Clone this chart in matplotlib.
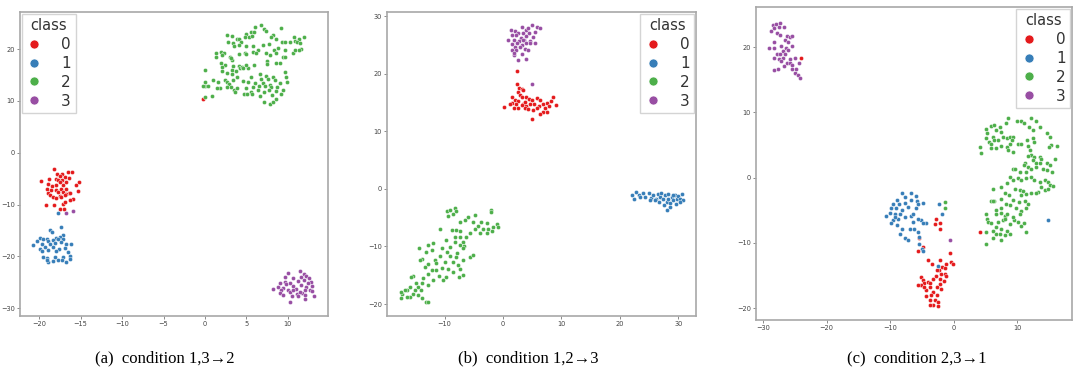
import matplotlib
matplotlib.use("Agg")
import matplotlib.pyplot as plt
from matplotlib.lines import Line2D

# colours per class (Set1)
CLASS_COLORS = ["#e41a1c", "#377eb8", "#4daf4a", "#984ea3"]
CLASS_NAMES = ["0", "1", "2", "3"]

# ---- panel (a): condition 1,3 -> 2 ----
a_cls0 = [(-18.2, -3.2), (-17.2, -4.0), (-16.5, -3.8), (-16.0, -3.7), (-17.8, -4.1), (-17.5, -4.5),
          (-16.9, -4.6), (-18.0, -5.0), (-17.7, -5.3), (-17.2, -5.3), (-16.4, -4.9), (-19.8, -5.5),
          (-18.8, -5.1), (-17.5, -5.6), (-16.7, -5.7), (-15.2, -5.6), (-18.9, -6.1), (-18.5, -6.4),
          (-17.9, -6.3), (-17.1, -6.3), (-15.6, -6.3), (-19.0, -6.9), (-18.6, -7.2), (-17.9, -7.1),
          (-17.3, -6.9), (-16.7, -7.0), (-15.3, -7.3), (-18.9, -7.7), (-17.7, -7.5), (-17.1, -7.5),
          (-16.4, -7.7), (-16.8, -7.9), (-18.7, -8.2), (-18.3, -8.5), (-17.5, -8.4), (-16.9, -8.2),
          (-16.3, -7.7), (-17.9, -8.8), (-17.3, -8.6), (-15.9, -9.0), (-19.2, -10.1), (-18.2, -10.0),
          (-17.1, -9.9), (-17.5, -10.9), (-17.0, -10.8), (-16.3, -9.2), (-16.9, -9.5), (-0.3, 10.4)]
a_cls1 = [(-17.3, -14.3), (-18.7, -14.9), (-18.5, -15.3), (-17.1, -15.8), (-19.9, -16.4), (-19.5, -16.6),
          (-19.1, -16.7), (-17.5, -16.2), (-17.9, -16.4), (-20.3, -17.0), (-18.9, -17.0), (-18.3, -16.9),
          (-17.7, -16.7), (-17.1, -16.6), (-20.7, -17.8), (-19.7, -17.5), (-18.7, -17.5), (-18.1, -17.4),
          (-17.3, -17.2), (-16.7, -17.6), (-16.1, -17.5), (-19.9, -18.5), (-19.3, -18.2), (-18.3, -18.2),
          (-17.6, -18.5), (-16.9, -18.3), (-19.7, -18.9), (-18.9, -18.8), (-17.9, -18.9), (-16.5, -19.1),
          (-19.5, -20.1), (-19.1, -20.3), (-18.1, -20.1), (-17.1, -20.1), (-16.3, -20.0), (-18.9, -21.1),
          (-18.3, -20.9), (-17.2, -20.7), (-16.7, -21.1), (-16.3, -20.4), (-19.0, -20.6), (-17.7, -20.6),
          (-17.7, -11.6)]
a_cls2 = [(6.7, 24.6), (7.1, 23.8), (7.3, 23.5), (6.0, 24.2), (5.5, 23.3), (5.0, 23.0), (5.9, 23.2),
          (9.2, 24.0), (8.2, 22.8), (2.7, 22.8), (3.2, 22.6), (3.8, 21.9), (4.1, 21.9), (3.4, 21.2),
          (4.4, 21.4), (4.8, 22.3), (5.3, 22.4), (5.7, 22.5), (7.9, 22.3), (8.5, 21.9), (9.3, 21.4),
          (9.7, 21.4), (10.7, 22.4), (10.2, 21.4), (10.9, 21.6), (11.9, 22.3), (11.3, 21.9), (11.1, 21.4),
          (11.4, 21.1), (2.8, 21.4), (3.5, 20.5), (5.0, 20.5), (5.8, 20.6), (6.4, 19.9), (7.0, 20.8),
          (7.7, 20.9), (8.3, 19.8), (8.8, 20.3), (9.7, 19.9), (10.6, 19.2), (11.6, 20.1), (11.3, 19.8),
          (10.8, 19.8), (4.1, 20.8), (4.8, 19.3), (5.8, 19.5), (6.1, 19.2), (7.4, 19.2), (1.3, 19.3),
          (1.9, 19.5), (2.3, 19.3), (1.3, 18.4), (2.0, 18.8), (3.0, 18.5), (4.1, 19.0), (5.0, 19.0),
          (7.8, 18.8), (8.6, 19.2), (9.4, 18.5), (9.7, 18.4), (1.9, 17.4), (2.4, 17.0), (3.3, 17.9),
          (3.1, 18.2), (3.4, 16.7), (4.1, 16.7), (4.2, 16.4), (4.5, 16.5), (5.2, 16.4), (5.0, 16.9),
          (5.9, 17.0), (7.5, 17.7), (7.5, 17.2), (8.5, 17.4), (9.0, 17.4), (2.1, 16.6), (2.0, 15.8),
          (0.0, 15.9), (3.2, 15.9), (3.7, 15.8), (4.6, 16.3), (2.6, 15.4), (3.2, 15.2), (3.9, 14.7),
          (4.6, 13.9), (5.6, 14.7), (6.6, 15.2), (7.4, 14.8), (6.8, 14.3), (7.6, 14.3), (8.2, 14.7),
          (9.6, 15.6), (9.8, 14.7), (9.9, 13.7), (9.1, 13.5), (8.4, 14.0), (7.8, 13.1), (7.0, 13.4),
          (6.0, 13.5), (5.2, 13.7), (3.4, 14.0), (2.4, 14.1), (2.6, 13.7), (1.6, 13.7), (1.0, 14.0),
          (0.0, 13.6), (1.8, 12.4), (2.9, 13.2), (3.1, 12.6), (3.5, 12.1), (0.0, 12.9), (0.4, 12.9),
          (-0.2, 12.9), (2.7, 12.6), (3.9, 12.4), (5.0, 12.4), (5.8, 12.7), (6.5, 12.9), (7.2, 12.9),
          (8.0, 12.7), (8.7, 12.6), (9.4, 12.2), (7.7, 12.1), (8.5, 12.0), (9.2, 11.3), (8.1, 11.2),
          (7.1, 11.8), (6.4, 12.2), (5.6, 11.8), (4.7, 11.3), (5.1, 11.3), (6.6, 10.9), (7.1, 9.8),
          (7.8, 9.5), (8.5, 10.3), (8.2, 9.8), (5.7, 11.4), (3.6, 11.8), (1.4, 12.4), (0.8, 10.9),
          (0.0, 10.7)]
a_cls3 = [(10.0, -23.2), (11.5, -22.9), (11.9, -23.3), (9.6, -23.9), (10.6, -24.1), (11.6, -23.9),
          (12.2, -23.8), (12.5, -24.1), (9.0, -25.1), (9.7, -24.9), (10.2, -25.1), (11.2, -24.8),
          (11.9, -24.5), (12.8, -24.9), (8.8, -25.8), (9.4, -26.0), (10.6, -25.7), (11.6, -25.6),
          (12.2, -25.9), (12.9, -25.7), (8.2, -26.3), (9.2, -26.4), (10.0, -26.4), (11.0, -26.2),
          (12.0, -26.5), (12.6, -26.4), (9.0, -27.0), (10.2, -26.8), (11.1, -27.2), (11.7, -27.0),
          (12.9, -26.7), (9.4, -27.5), (10.5, -27.7), (11.2, -27.7), (12.1, -27.5), (13.1, -27.7),
          (10.2, -28.8), (12.1, -28.3), (11.4, -26.8), (9.8, -25.4), (10.6, -26.5), (12.4, -25.2),
          (-16.8, -11.7), (-15.9, -11.3)]

# ---- panel (b): condition 1,2 -> 3 ----
b_cls0 = [(2.4, 20.5), (2.4, 18.2), (2.8, 17.6), (3.2, 17.3), (2.5, 16.9), (3.5, 17.2), (2.9, 16.3),
          (3.3, 16.0), (1.6, 16.0), (2.0, 15.4), (2.5, 15.3), (3.9, 16.0), (4.4, 15.7), (4.9, 15.5),
          (5.8, 15.8), (6.3, 15.5), (8.6, 15.9), (8.2, 15.3), (7.5, 15.0), (6.8, 14.8), (9.0, 14.5),
          (0.2, 14.3), (1.5, 15.0), (2.3, 14.8), (3.5, 14.7), (4.0, 14.4), (4.7, 14.7), (5.3, 14.8),
          (6.2, 14.4), (7.9, 14.4), (1.9, 14.1), (2.6, 14.0), (3.8, 14.0), (4.3, 13.8), (5.2, 13.7),
          (5.8, 14.0), (6.8, 13.4), (7.5, 13.4), (6.3, 13.1), (4.9, 12.2), (3.2, 14.5), (3.8, 15.1),
          (7.2, 14.1), (1.2, 14.7)]
b_cls1 = [(22.0, -1.1), (22.4, -1.7), (22.8, -0.5), (23.2, -1.0), (23.4, -1.4), (23.9, -0.7),
          (24.3, -1.4), (25.0, -0.7), (25.3, -1.5), (25.7, -1.1), (26.2, -1.7), (26.5, -0.8),
          (26.9, -1.4), (27.1, -0.7), (27.4, -1.8), (27.7, -1.1), (28.0, -2.2), (28.3, -1.7),
          (28.6, -2.5), (28.9, -1.4), (29.1, -1.9), (29.4, -1.0), (29.7, -1.8), (30.0, -1.2),
          (30.3, -1.7), (30.6, -0.9), (30.7, -1.9), (28.1, -3.7), (28.6, -3.1), (27.5, -2.8),
          (26.7, -2.2), (28.3, -0.8), (29.6, -2.6), (30.2, -2.2), (26.0, -1.9), (25.1, -1.9),
          (29.0, -1.1)]
b_cls2 = [(-9.5, -3.8), (-9.0, -3.6), (-8.2, -3.4), (-8.0, -3.8), (-8.5, -4.3), (-9.4, -4.7),
          (-2.1, -3.6), (-2.0, -4.0), (-4.8, -4.6), (-6.0, -4.8), (-6.5, -5.4), (-7.4, -5.7),
          (-5.1, -5.7), (-3.7, -5.7), (-2.8, -6.0), (-4.2, -6.5), (-4.8, -6.9), (-3.4, -7.0),
          (-2.5, -6.9), (-1.7, -6.6), (-1.1, -6.1), (-0.8, -6.7), (-1.8, -7.4), (-2.7, -7.7),
          (-4.0, -7.7), (-5.7, -7.7), (-7.4, -7.4), (-8.0, -7.2), (-8.8, -7.2), (-10.8, -7.0),
          (-8.2, -8.3), (-7.4, -8.4), (-6.4, -8.4), (-6.8, -9.2), (-8.2, -9.2), (-9.7, -8.9),
          (-11.9, -9.4), (-12.8, -9.8), (-14.3, -10.3), (-13.2, -10.9), (-12.2, -10.6), (-10.5, -10.3),
          (-9.1, -10.1), (-7.4, -9.8), (-6.6, -9.9), (-9.5, -10.9), (-7.8, -11.2), (-6.8, -10.3),
          (-5.7, -11.8), (-5.1, -11.5), (-8.0, -11.9), (-9.1, -11.7), (-10.8, -11.7), (-11.7, -12.4),
          (-9.9, -12.7), (-8.5, -12.7), (-7.7, -13.2), (-6.8, -12.4), (-11.4, -12.9), (-12.8, -13.1),
          (-13.9, -12.1), (-14.2, -12.4), (-13.4, -13.5), (-12.2, -14.1), (-10.5, -13.8), (-9.4, -14.0),
          (-7.4, -14.0), (-6.8, -15.0), (-7.5, -15.3), (-10.9, -15.1), (-11.9, -15.8), (-13.7, -15.5),
          (-12.8, -14.8), (-15.4, -15.1), (-15.7, -15.3), (-13.9, -16.4), (-12.8, -16.7), (-14.5, -17.0),
          (-15.9, -17.0), (-16.5, -17.6), (-17.2, -18.2), (-15.4, -18.2), (-14.5, -18.4), (-13.9, -19.0),
          (-15.9, -18.7), (-17.4, -19.0), (-16.5, -18.7), (-13.1, -19.6), (-12.8, -19.7), (-15.1, -17.6),
          (-16.8, -17.6), (-14.9, -16.3), (-17.4, -17.9), (-14.1, -17.6), (-11.4, -14.1), (-8.6, -14.4),
          (-9.7, -15.3), (-10.2, -15.8)]
b_cls3 = [(1.3, 27.7), (2.0, 27.5), (3.3, 28.1), (3.9, 27.7), (4.9, 28.4), (4.3, 27.9), (5.8, 28.1),
          (6.4, 28.0), (2.6, 27.1), (3.5, 27.1), (4.5, 27.1), (5.5, 27.2), (1.5, 26.8), (2.3, 26.7),
          (3.1, 26.3), (4.0, 26.6), (5.2, 26.4), (0.9, 25.9), (1.9, 25.9), (2.8, 25.7), (3.6, 25.8),
          (4.6, 25.7), (5.5, 25.3), (1.6, 25.1), (2.4, 25.3), (3.2, 25.0), (3.9, 25.3), (4.7, 25.4),
          (2.0, 24.6), (2.9, 24.7), (3.8, 24.3), (4.3, 24.1), (1.5, 24.1), (2.3, 24.1), (3.2, 23.5),
          (1.8, 23.2), (4.0, 22.5), (2.6, 22.4), (1.9, 23.7), (3.5, 25.9), (4.9, 18.3)]

# ---- panel (c): condition 2,3 -> 1 ----
c_cls0 = [(-2.8, -6.4), (-2.2, -6.9), (-3.0, -7.1), (-2.2, -7.9), (-5.5, -9.3), (-4.8, -10.6),
          (-4.1, -12.6), (-3.4, -13.2), (-5.6, -11.2), (-2.2, -12.6), (-0.6, -11.5), (-0.4, -12.9),
          (-0.1, -13.3), (-1.2, -13.2), (-1.8, -13.7), (-1.3, -13.9), (-2.3, -14.1), (-2.7, -14.2),
          (-2.0, -14.7), (-1.4, -14.7), (-1.2, -15.1), (-2.8, -15.1), (-5.1, -15.2), (-4.8, -15.7),
          (-4.6, -16.1), (-5.1, -16.5), (-5.6, -16.5), (-4.1, -16.0), (-3.3, -15.5), (-3.7, -16.2),
          (-2.2, -15.5), (-2.2, -16.3), (-1.6, -15.8), (-2.7, -16.7), (-3.8, -16.7), (-2.0, -17.1),
          (-4.3, -17.2), (-3.3, -17.5), (-3.5, -18.0), (-2.7, -18.0), (-4.3, -18.2), (-3.7, -18.8),
          (-3.0, -18.7), (-2.5, -19.0), (-3.3, -19.5), (-2.5, -19.7), (-3.8, -19.5), (-4.7, -16.8),
          (4.2, -8.4), (-24.1, 18.4)]
c_cls1 = [(-8.2, -2.4), (-6.8, -2.3), (-5.9, -2.8), (-7.7, -3.0), (-6.7, -3.4), (-4.8, -3.9),
          (-5.8, -3.6), (-5.6, -4.1), (-9.0, -3.4), (-9.6, -4.0), (-8.6, -4.1), (-7.6, -3.9),
          (-9.8, -4.6), (-9.1, -4.7), (-8.2, -5.0), (-7.2, -4.5), (-5.9, -4.6), (-10.6, -5.9),
          (-10.0, -5.4), (-9.3, -5.5), (-8.5, -5.6), (-9.6, -6.5), (-8.8, -6.3), (-7.7, -6.0),
          (-6.8, -5.9), (-5.1, -6.5), (-6.4, -6.8), (-5.6, -6.3), (-4.3, -6.9), (-4.8, -6.9),
          (-9.8, -7.0), (-9.0, -7.3), (-8.2, -7.8), (-6.9, -7.8), (-6.2, -7.9), (-5.6, -8.3),
          (-8.5, -8.7), (-7.7, -9.3), (-7.2, -9.6), (-5.5, -9.1), (-5.4, -10.2), (-5.0, -10.9),
          (-4.8, -11.2), (-2.3, -4.0), (-1.8, -5.5), (-2.5, -13.5), (-6.4, -5.5), (-9.3, -6.0),
          (14.8, -6.5)]
c_cls2 = [(-1.3, -3.8), (-1.3, -4.6), (8.5, 9.1), (10.0, 8.6), (10.6, 8.6), (11.0, 8.4), (12.2, 9.1),
          (12.9, 8.6), (13.6, 7.8), (11.9, 7.8), (12.5, 7.3), (5.1, 7.5), (5.9, 7.9), (6.4, 8.1),
          (6.6, 7.3), (7.2, 7.7), (7.5, 7.0), (8.2, 8.4), (5.3, 6.8), (4.2, 4.7), (4.3, 3.7), (5.1, 6.0),
          (5.5, 5.5), (5.9, 5.1), (6.2, 6.3), (6.4, 5.7), (7.0, 5.7), (7.7, 6.3), (8.3, 6.0), (8.8, 6.3),
          (9.3, 6.3), (9.1, 5.7), (8.9, 5.2), (8.3, 4.7), (7.5, 4.8), (6.6, 4.5), (5.8, 4.6), (8.5, 4.3),
          (9.3, 4.0), (10.1, 5.1), (10.6, 5.2), (11.7, 4.9), (11.5, 5.7), (12.5, 6.0), (12.7, 5.5),
          (14.7, 6.8), (15.1, 6.3), (15.3, 5.0), (15.0, 4.7), (16.3, 4.9), (12.0, 4.2), (12.2, 3.5),
          (12.7, 3.2), (13.5, 3.2), (13.8, 2.8), (11.7, 3.3), (13.0, 2.2), (13.5, 2.3), (14.6, 2.2),
          (15.1, 1.9), (15.9, 2.9), (11.2, 2.2), (11.0, 1.9), (11.7, 1.7), (12.5, 2.7), (9.3, 1.4),
          (9.7, 1.4), (10.4, 0.9), (11.3, 0.9), (12.2, 1.3), (12.9, 1.7), (14.0, 1.4), (14.7, 1.1),
          (15.5, 0.9), (8.8, 0.1), (9.3, -0.4), (10.1, -0.1), (10.6, -0.4), (11.4, -0.1), (12.2, 0.1),
          (12.7, -0.4), (13.5, -0.6), (14.3, -0.4), (14.8, -0.6), (15.1, -1.2), (13.8, -1.4), (13.3, -2.2),
          (13.0, -2.4), (14.3, -1.9), (14.8, -1.7), (15.6, -1.3), (8.3, -0.8), (7.5, -1.4), (9.7, -1.7),
          (10.4, -1.9), (10.9, -2.0), (11.4, -2.5), (12.2, -2.4), (10.6, -2.7), (6.2, -1.8), (8.0, -2.3),
          (8.7, -2.7), (7.5, -3.2), (9.3, -3.4), (10.3, -3.7), (11.2, -3.5), (11.7, -4.1), (11.4, -4.7),
          (10.6, -5.1), (10.4, -5.5), (9.8, -4.7), (8.8, -4.2), (8.2, -4.0), (7.5, -4.7), (6.7, -4.9),
          (6.4, -3.5), (5.8, -3.5), (6.1, -3.6), (5.0, -5.5), (5.2, -6.3), (5.4, -6.8), (5.9, -7.0),
          (6.7, -5.5), (7.4, -5.4), (8.0, -5.8), (7.7, -6.5), (7.0, -6.8), (6.6, -7.5), (7.5, -7.8),
          (8.4, -8.1), (8.8, -7.1), (9.4, -6.5), (10.1, -6.8), (10.6, -7.4), (11.0, -7.0), (11.3, -8.3),
          (9.3, -6.0), (8.4, -5.5), (7.2, -8.6), (6.7, -8.7), (6.2, -9.3), (7.5, -9.5), (8.0, -8.8),
          (5.0, -8.3), (5.1, -10.1), (6.2, -8.1), (8.0, -6.4), (8.8, -8.6)]
c_cls3 = [(-28.4, 23.4), (-27.9, 23.6), (-27.4, 23.7), (-28.2, 22.9), (-27.5, 23.1), (-26.7, 23.1),
          (-28.7, 22.4), (-27.8, 22.1), (-27.4, 21.8), (-26.3, 21.7), (-25.8, 21.6), (-25.5, 21.7),
          (-26.6, 21.1), (-26.1, 20.8), (-28.3, 20.8), (-29.0, 19.9), (-28.3, 19.8), (-27.1, 20.1),
          (-26.4, 19.8), (-26.9, 19.4), (-26.1, 19.5), (-25.4, 20.2), (-27.8, 19.0), (-27.3, 18.9),
          (-26.6, 19.0), (-28.2, 18.3), (-27.5, 18.1), (-26.9, 18.3), (-25.8, 18.1), (-25.0, 18.3),
          (-26.3, 17.5), (-25.8, 17.6), (-25.4, 17.2), (-24.3, 17.5), (-27.6, 16.7), (-26.7, 17.1),
          (-25.5, 16.7), (-25.0, 16.0), (-24.5, 15.7), (-24.2, 15.3), (-24.8, 16.6), (-28.2, 16.5),
          (-27.1, 17.8), (-0.6, -9.5)]

panels = [
    ("(a)  condition 1,3\u21922", [a_cls0, a_cls1, a_cls2, a_cls3],
     [-22.3, 14.8], [-31.5, 27.1], [-20, -15, -10, -5, 0, 5, 10], [-30, -20, -10, 0, 10, 20], "upper left"),
    ("(b)  condition 1,2\u21923", [b_cls0, b_cls1, b_cls2, b_cls3],
     [-19.9, 33.0], [-22.1, 30.7], [-10, 0, 10, 20, 30], [-20, -10, 0, 10, 20, 30], "upper right"),
    ("(c)  condition 2,3\u21921", [c_cls0, c_cls1, c_cls2, c_cls3],
     [-31.1, 18.6], [-21.8, 26.1], [-30, -20, -10, 0, 10], [-20, -10, 0, 10, 20], "upper right"),
]

# axes boxes in figure fractions (left, bottom, width, height)
boxes = [(0.0185, 0.148, 0.285, 0.819),
         (0.358, 0.148, 0.2864, 0.819),
         (0.700, 0.1375, 0.2926, 0.843)]
caption_x = [164.5 / 1080, 528.5 / 1080, 917 / 1080]

fig = plt.figure(figsize=(10.8, 3.71), dpi=100)

for (title, classes, xlim, ylim, xt, yt, loc), box, cx in zip(panels, boxes, caption_x):
    ax = fig.add_axes(box)
    for pts, col in zip(classes, CLASS_COLORS):
        xs = [p[0] for p in pts]
        ys = [p[1] for p in pts]
        ax.scatter(xs, ys, s=9, c=col, edgecolors="white", linewidths=0.3, zorder=3)
    ax.set_xlim(xlim)
    ax.set_ylim(ylim)
    ax.set_xticks(xt)
    ax.set_yticks(yt)
    ax.tick_params(labelsize=4.8, length=2, width=0.6, colors="#777777", labelcolor="#444444", pad=1.5)
    for sp in ax.spines.values():
        sp.set_color("#a8a8a8")
        sp.set_linewidth(1.2)
    handles = [Line2D([], [], marker="o", linestyle="", markersize=6.5, markerfacecolor=col,
                      markeredgecolor="white", markeredgewidth=0.5) for col in CLASS_COLORS]
    leg = ax.legend(handles, CLASS_NAMES, title="class", loc=loc, fontsize=11, title_fontsize=10.5,
                    borderaxespad=0.1, handlelength=1.0, handletextpad=1.3, labelspacing=0.25,
                    borderpad=0.3, framealpha=0.9, edgecolor="#d0d0d0", fancybox=False)
    leg.get_title().set_color("#333333")
    for t in leg.get_texts():
        t.set_color("#333333")
    fig.text(cx, 0.035, title, ha="center", va="center", fontsize=12,
             family=["Liberation Serif", "DejaVu Serif"])

fig.savefig("out.png", dpi=100)
